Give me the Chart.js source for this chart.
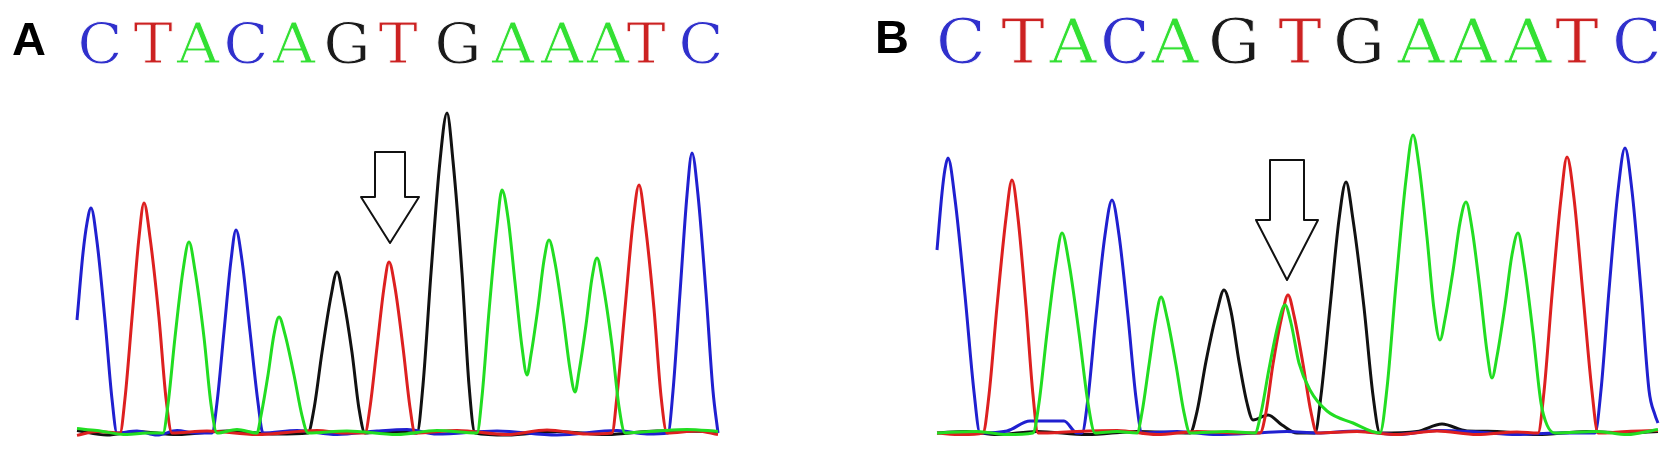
<!DOCTYPE html>
<html>
<head>
<meta charset="utf-8">
<script src="https://cdn.jsdelivr.net/npm/chart.js@4/dist/chart.umd.min.js"></script>
<style>
  html, body { margin: 0; background: #fff; }
  #wrap { position: relative; width: 1677px; height: 465px; }
  canvas { position: absolute; top: 0; }
  #chartA { left: 0; }
  #chartB { left: 838px; }
</style>
</head>
<body>
<div id="wrap">
  <canvas id="chartA" width="838" height="465"></canvas>
  <canvas id="chartB" width="839" height="465"></canvas>
</div>
<script>
// base calls (same read in both panels)
const bases = ['C', 'T', 'A', 'C', 'A', 'G', 'T', 'G', 'A', 'A', 'A', 'T', 'C'];
// scan position of each base call
const callsA = [23, 76, 121, 169, 217, 270, 321, 381, 436, 485, 531, 569, 624];
const callsB = [24, 86, 136, 188, 238, 297, 363, 422, 484, 536, 591, 640, 700];

// traces as [scan, signal] - panel A
const traceA_C = [[0,565],[6,900],[10,1050],[14,1125],[20,956],[28,563],[35,169],[40,0],[60,10],[80,-10],[100,12],[118,0],[135,0],[140,152],[147,508],[154,863],[159,1015],[165,863],[173,508],[181,152],[186,0],[220,12],[260,-8],[300,10],[330,18],[360,-5],[420,10],[480,-10],[540,12],[570,-5],[591,0],[596,210],[603,700],[610,1190],[615,1400],[621,1190],[629,700],[636,210],[641,0]];
const traceA_T = [[0,-12],[20,8],[43,0],[48,173],[55,575],[62,978],[67,1150],[73,978],[82,575],[89,173],[95,0],[130,10],[180,-8],[240,12],[268,0],[288,0],[293,128],[300,428],[307,727],[312,855],[318,727],[326,428],[333,128],[338,0],[380,12],[430,-8],[470,15],[510,-5],[535,0],[540,186],[548,620],[556,1054],[562,1240],[568,1054],[577,620],[584,186],[590,0],[620,10],[641,-8]];
const traceA_A = [[0,22],[20,12],[50,-8],[70,0],[86,0],[91,143],[98,478],[106,812],[112,955],[118,812],[127,478],[134,143],[140,0],[160,18],[180,0],[184,87],[191,290],[197,493],[202,580],[208,493],[217,290],[225,87],[231,0],[270,10],[320,-8],[360,12],[400,0],[405,182],[412,608],[420,1033],[425,1215],[431,1076],[438,753],[445,429],[450,290],[454,391],[461,628],[467,864],[472,965],[478,851],[486,585],[493,319],[498,205],[502,306],[509,540],[515,775],[520,875],[526,744],[535,437],[542,131],[548,0],[580,10],[610,18],[641,8]];
const traceA_G = [[0,12],[30,-10],[60,8],[100,-8],[150,10],[200,-5],[231,0],[237,121],[245,403],[254,684],[260,805],[266,684],[275,403],[282,121],[288,0],[310,8],[340,0],[346,240],[354,800],[363,1360],[370,1600],[376,1360],[385,800],[392,240],[398,0],[430,-10],[480,8],[530,-8],[580,10],[641,8]];

// traces as [scan, signal] - panel B
const traceB_C = [[0,915],[5,1200],[8,1320],[11,1375],[18,1169],[28,688],[37,206],[43,0],[70,10],[93,60],[127,60],[140,0],[145,0],[151,175],[159,583],[168,990],[175,1165],[182,990],[191,583],[199,175],[205,0],[240,8],[280,-8],[320,0],[350,8],[380,0],[420,10],[460,-8],[500,12],[540,5],[580,-8],[620,0],[658,0],[664,214],[672,713],[681,1211],[688,1425],[695,1211],[704,713],[712,214],[718,90],[721,50]];
const traceB_T = [[0,0],[25,-8],[46,0],[52,190],[60,633],[69,1075],[75,1265],[81,1075],[89,633],[96,190],[101,0],[140,8],[180,12],[220,-8],[260,8],[300,0],[323,0],[329,104],[336,345],[345,587],[351,690],[357,587],[366,345],[374,104],[380,0],[420,8],[460,-8],[500,10],[540,-8],[580,5],[601,0],[607,207],[615,690],[624,1173],[630,1380],[637,1173],[646,690],[655,207],[661,0],[690,8],[721,12]];
const traceB_A = [[0,0],[40,8],[70,-8],[96,0],[102,150],[110,500],[119,850],[125,1000],[132,850],[142,500],[151,150],[158,0],[180,8],[200,0],[205,102],[212,340],[219,578],[224,680],[230,578],[239,340],[247,102],[253,0],[290,8],[318,0],[324,100],[332,320],[341,540],[348,640],[354,550],[362,350],[373,215],[390,110],[416,50],[443,0],[450,224],[459,745],[469,1267],[476,1490],[482,1336],[490,978],[497,619],[503,465],[508,569],[516,810],[523,1052],[529,1155],[535,1023],[543,715],[550,407],[555,275],[560,384],[568,638],[575,891],[581,1000],[587,850],[596,500],[604,150],[610,40],[618,0],[660,8],[690,-8],[721,18]];
const traceB_G = [[0,0],[30,8],[60,-8],[100,8],[150,-8],[200,8],[253,0],[260,107],[269,358],[280,608],[287,715],[294,608],[302,358],[310,150],[316,65],[331,90],[345,40],[360,0],[378,0],[384,188],[393,628],[402,1067],[409,1255],[416,1067],[427,628],[436,188],[443,0],[480,8],[505,45],[530,10],[560,8],[600,-8],[650,8],[690,0],[721,8]];

const colors = { A: '#22dd22', C: '#2020d0', G: '#111111', T: '#dd2020' };
const textColors = { A: '#33e033', C: '#3030cc', G: '#1a1a1a', T: '#cc2222' };

const pts = arr => arr.map(p => ({ x: p[0], y: p[1] }));

function trace(base, arr) {
    return {
        label: base,
        data: pts(arr),
        borderColor: colors[base],
        borderWidth: 3,
        pointRadius: 0,
        cubicInterpolationMode: 'monotone',
        fill: false,
        clip: false
    };
}

// panel letter, base calls and the arrow marking the T position
const seqPlugin = {
    id: 'seq',
    afterDatasetsDraw(chart, args, opts) {
        const ctx = chart.ctx;
        const xs = chart.scales.x, ys = chart.scales.y;
        ctx.save();
        ctx.fillStyle = '#000';
        ctx.font = 'bold 47px "Liberation Sans"';
        ctx.textAlign = 'left';
        ctx.textBaseline = 'alphabetic';
        ctx.fillText(opts.label, opts.labelX, opts.labelY);

        ctx.font = opts.fontSize + 'px "DejaVu Serif"';
        ctx.textAlign = 'center';
        ctx.lineJoin = 'round';
        bases.forEach((b, i) => {
            ctx.save();
            ctx.translate(xs.getPixelForValue(opts.calls[i]), 63);
            ctx.scale(1.05, 1);
            ctx.fillStyle = textColors[b];
            ctx.fillText(b, 0, 0);
            // thin the glyphs a little, the original calls are light
            ctx.lineWidth = 0.9;
            ctx.strokeStyle = '#fff';
            ctx.strokeText(b, 0, 0);
            ctx.restore();
        });

        const a = opts.arrow;
        const shape = [
            [a.x - a.shaft, a.top], [a.x + a.shaft, a.top], [a.x + a.shaft, a.neck],
            [a.x + a.head, a.neck], [a.x, a.tip], [a.x - a.head, a.neck], [a.x - a.shaft, a.neck]
        ];
        ctx.beginPath();
        shape.forEach((p, i) => {
            const px = xs.getPixelForValue(p[0]), py = ys.getPixelForValue(p[1]);
            if (i) ctx.lineTo(px, py); else ctx.moveTo(px, py);
        });
        ctx.closePath();
        ctx.fillStyle = '#fff';
        ctx.fill();
        ctx.lineWidth = 2;
        ctx.strokeStyle = '#111';
        ctx.stroke();
        ctx.restore();
    }
};

function makeChart(id, traces, xMax, padding, seq) {
    return new Chart(document.getElementById(id), {
        type: 'line',
        data: {
            datasets: [
                trace('A', traces.A),
                trace('T', traces.T),
                trace('C', traces.C),
                trace('G', traces.G)
            ]
        },
        options: {
            responsive: false,
            animation: false,
            devicePixelRatio: 1,
            layout: { padding: padding },
            plugins: {
                legend: { display: false },
                tooltip: { enabled: false },
                seq: seq
            },
            scales: {
                x: { type: 'linear', min: 0, max: xMax, display: false },
                y: { min: -35, max: 1665, display: false }
            }
        },
        plugins: [seqPlugin]
    });
}

makeChart('chartA', { A: traceA_A, C: traceA_C, G: traceA_G, T: traceA_T }, 641,
    { left: 77, right: 120, top: 100, bottom: 25 },
    { label: 'A', labelX: 12, labelY: 55, fontSize: 56, calls: callsA,
      arrow: { x: 313, shaft: 15, head: 29, top: 1405, neck: 1180, tip: 950 } });

makeChart('chartB', { A: traceB_A, C: traceB_C, G: traceB_G, T: traceB_T }, 721,
    { left: 99, right: 19, top: 100, bottom: 25 },
    { label: 'B', labelX: 37, labelY: 53, fontSize: 62, calls: callsB,
      arrow: { x: 350, shaft: 17, head: 31, top: 1365, neck: 1065, tip: 765 } });
</script>
</body>
</html>
